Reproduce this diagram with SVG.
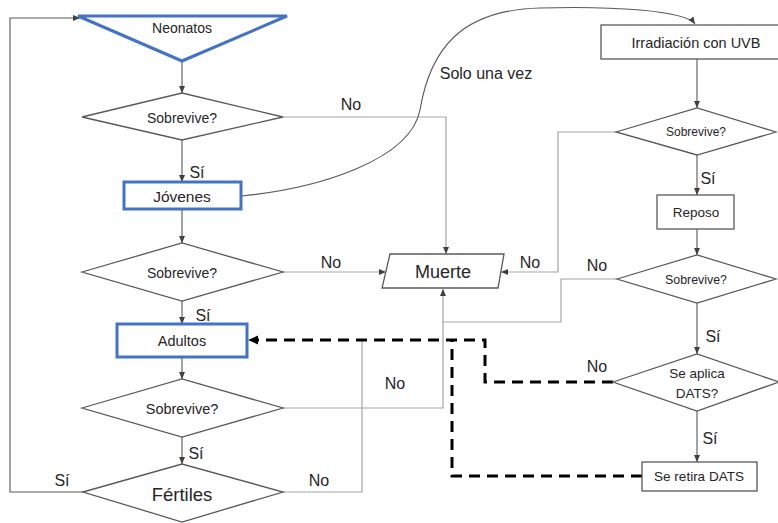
<svg xmlns="http://www.w3.org/2000/svg" width="778" height="523" viewBox="0 0 778 523">
<defs>
<marker id="a" markerWidth="8" markerHeight="8" refX="7" refY="4" orient="auto" markerUnits="userSpaceOnUse"><path d="M0,1 L7,4 L0,7 Z" fill="#404040"/></marker>
<marker id="ak" markerWidth="10" markerHeight="10" refX="8" refY="5" orient="auto" markerUnits="userSpaceOnUse"><path d="M0,1.5 L8,5 L0,8.5 Z" fill="#000"/></marker>
<style>
text{font-family:"Liberation Sans",Arial,sans-serif;fill:#262626;text-anchor:middle;dominant-baseline:central}
.d{fill:#fff;stroke:#595959;stroke-width:1.3}
.b{fill:#fff;stroke:#4472c4;stroke-width:3}
.r{fill:#fff;stroke:#595959;stroke-width:1.3}
.c{fill:none;stroke:#595959;stroke-width:1.1;marker-end:url(#a)}
.g{fill:none;stroke:#a6a6a6;stroke-width:1.2}
.ga{fill:none;stroke:#a6a6a6;stroke-width:1.2;marker-end:url(#a)}
.k{fill:none;stroke:#000;stroke-width:3;stroke-dasharray:11,7}
.l{font-size:16px}
</style>
</defs>
<rect width="778" height="523" fill="#fff"/>
<g id="connectors">
<path class="c" d="M182,61 V93"/>
<path class="c" d="M182,140 V182"/>
<path class="c" d="M182,209 V243"/>
<path class="c" d="M182,301 V324"/>
<path class="c" d="M182,357 V379"/>
<path class="c" d="M182,437 V464"/>
<path class="c" d="M83,492 H10 V18 H80"/>
<path class="c" d="M697,59 V108"/>
<path class="c" d="M697,155 V195"/>
<path class="c" d="M697,229 V255"/>
<path class="c" d="M697,303 V354"/>
<path class="c" d="M697,411 V462"/>
<path class="ga" d="M283,117 H446 V254"/>
<path class="ga" d="M283,272 H386"/>
<path class="ga" d="M616,132 H558 V272 H501"/>
<path class="g" d="M617,279 H561 V322 H443"/>
<path class="ga" d="M283,408 H443 V289"/>
<path class="g" d="M283,492 H362 V341"/>
<path class="c" d="M242,196 C320,188 410,160 420,110 C430,50 460,10 540,8 C610,6 685,10 695,24" stroke="#8c8c8c"/>
<path class="k" d="M613,382 H485 V340 H254"/>
<path class="k" d="M642,476 H452 V340"/>
<path d="M248,340 L258,335.5 L258,344.5 Z" fill="#000"/>
</g>
<g id="neonatos"><polygon class="b" points="78,16 287,16 182,61"/><text x="182" y="28" font-size="14">Neonatos</text></g>
<g id="sobrevive1"><polygon class="d" points="82,117 182,93 283,117 182,140"/><text x="182" y="118" font-size="14">Sobrevive?</text></g>
<g id="jovenes"><rect class="b" x="124" y="182" width="117" height="27"/><text x="182" y="196" font-size="15.5">Jóvenes</text></g>
<g id="sobrevive2"><polygon class="d" points="82,272 182,243 283,272 182,301"/><text x="182" y="273" font-size="14">Sobrevive?</text></g>
<g id="adultos"><rect class="b" x="117" y="324" width="130" height="33"/><text x="182" y="341" font-size="14.5">Adultos</text></g>
<g id="sobrevive3"><polygon class="d" points="82,408 182,379 283,408 182,437"/><text x="182" y="409" font-size="14.5">Sobrevive?</text></g>
<g id="fertiles"><polygon class="d" points="83,492 182,464 283,492 182,522"/><text x="182" y="494" font-size="18.5">Fértiles</text></g>
<g id="muerte"><polygon class="r" points="390,254 504,254 498,288 382,288"/><text x="443" y="272" font-size="18">Muerte</text></g>
<g id="irradiacion"><rect class="r" x="601" y="25" width="190" height="34"/><text x="696" y="43" font-size="14.5">Irradiación con UVB</text></g>
<g id="sobrevive4"><polygon class="d" points="616,132 697,108 776,132 697,155"/><text x="696" y="132" font-size="12">Sobrevive?</text></g>
<g id="reposo"><rect class="r" x="657" y="195" width="77" height="34"/><text x="696" y="212" font-size="13.5">Reposo</text></g>
<g id="sobrevive5"><polygon class="d" points="617,279 697,255 776,279 697,303"/><text x="696" y="280" font-size="12.4">Sobrevive?</text></g>
<g id="dats"><polygon class="d" points="613,382 697,354 779,382 697,411"/><text x="697" y="373" font-size="13.5">Se aplica</text><text x="697" y="393" font-size="13.5">DATS?</text></g>
<g id="retira"><rect class="r" x="642" y="462" width="115" height="29"/><text x="699" y="476" font-size="13.5">Se retira DATS</text></g>
<g id="labels">
<text class="l" x="486" y="73">Solo una vez</text>
<text class="l" x="351" y="104">No</text>
<text class="l" x="197" y="172">Sí</text>
<text class="l" x="331" y="262">No</text>
<text class="l" x="530" y="262">No</text>
<text class="l" x="203" y="315">Sí</text>
<text class="l" x="196" y="453">Sí</text>
<text class="l" x="62" y="480">Sí</text>
<text class="l" x="319" y="480">No</text>
<text class="l" x="395" y="383">No</text>
<text class="l" x="708" y="178">Sí</text>
<text class="l" x="597" y="265">No</text>
<text class="l" x="713" y="336">Sí</text>
<text class="l" x="597" y="366">No</text>
<text class="l" x="710" y="438">Sí</text>
</g>
</svg>
